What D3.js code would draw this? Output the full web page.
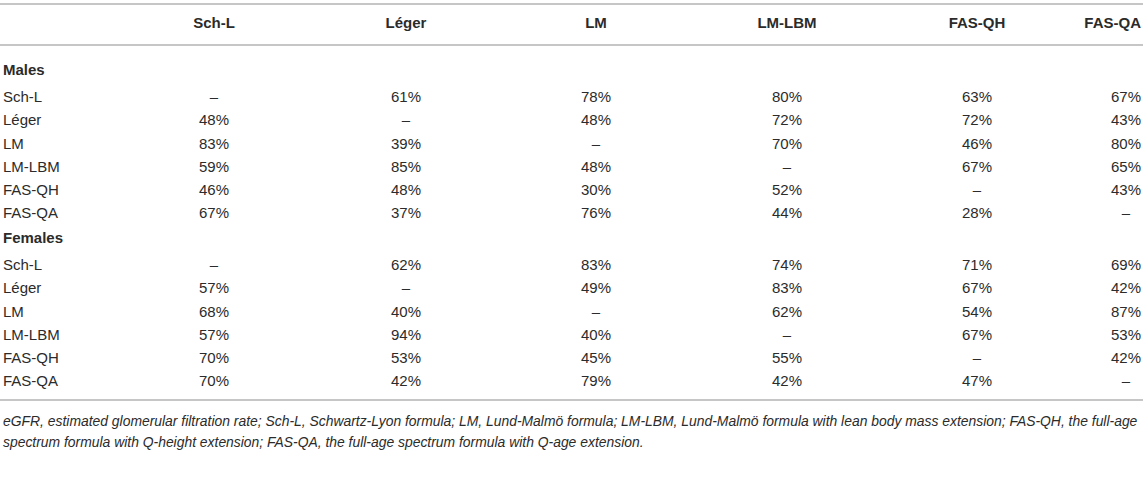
<!DOCTYPE html>
<html>
<head>
<meta charset="utf-8">
<script src="https://cdn.jsdelivr.net/npm/d3@7"></script>
<style>
  body { margin: 0; background: #fff; }
  svg { display: block; font-family: "Liberation Sans", Arial, Helvetica, sans-serif; }
</style>
</head>
<body>
<svg width="1145" height="481"></svg>
<script>
// column headers (formulas)
var formulas = ["Sch-L", "Léger", "LM", "LM-LBM", "FAS-QH", "FAS-QA"]

// percentage tables, null = same formula (dash)
var males = [
	[null, 61, 78, 80, 63, 67],
	[48, null, 48, 72, 72, 43],
	[83, 39, null, 70, 46, 80],
	[59, 85, 48, null, 67, 65],
	[46, 48, 30, 52, null, 43],
	[67, 37, 76, 44, 28, null]
]
var females = [
	[null, 62, 83, 74, 71, 69],
	[57, null, 49, 83, 67, 42],
	[68, 40, null, 62, 54, 87],
	[57, 94, 40, null, 67, 53],
	[70, 53, 45, 55, null, 42],
	[70, 42, 79, 42, 47, null]
]
var groups = [
	{ name: "Males", values: males },
	{ name: "Females", values: females }
]

var footnote = [
	"eGFR, estimated glomerular filtration rate; Sch-L, Schwartz-Lyon formula; LM, Lund-Malmö formula; LM-LBM, Lund-Malmö formula with lean body mass extension; FAS-QH, the full-age",
	"spectrum formula with Q-height extension; FAS-QA, the full-age spectrum formula with Q-age extension."
]

function drawTable(){
	var svg = d3.select("svg")
	var W = 1145
	var ink = "#2b2b2b"
	var rule = "#b3b3b3"
	var fs = "15px"

	// x positions of the columns
	var x = d3.scaleOrdinal()
		.domain(formulas)
		.range([214, 406, 596, 787, 977, 1126])

	// build the row list: group label rows and data rows
	var rows = []
	groups.forEach(g => {
		rows.push({ type: "group", label: g.name })
		g.values.forEach((v, i) => rows.push({ type: "data", label: formulas[i], values: v }))
	})

	// row centre positions
	var yPos = []
	var cur = 70
	rows.forEach((r, i) => {
		if (i > 0) {
			var prev = rows[i - 1]
			if (prev.type == "group") cur += 27
			else if (r.type == "group") cur += 25
			else cur += 23.2
		}
		yPos.push(cur)
	})

	// rules
	var lines = [4, 45, 400]
	svg.selectAll("line.rule")
		.data(lines)
		.enter()
		.append("line")
		.attr("class", "rule")
		.attr("x1", 0).attr("x2", W - 2)
		.attr("y1", d => d).attr("y2", d => d)
		.style("stroke", rule)
		.style("stroke-width", "1.6px")

	// header, kept inside the right edge
	svg.selectAll("text.head")
		.data(formulas)
		.enter()
		.append("text")
		.attr("class", "head")
		.attr("y", 23)
		.attr("dy", "0.35em")
		.style("text-anchor", "middle")
		.style("font-weight", "bold")
		.style("font-size", fs)
		.style("fill", ink)
		.text(d => d)
		.attr("x", function(d){
			var half = this.getComputedTextLength() / 2
			return Math.min(x(d), W - 4 - half)
		})

	var rowG = svg.selectAll("g.row")
		.data(rows)
		.enter()
		.append("g")
		.attr("class", "row")
		.attr("transform", (d, i) => "translate(0," + yPos[i] + ")")

	rowG.append("text")
		.attr("x", 3)
		.attr("dy", "0.35em")
		.style("font-size", fs)
		.style("font-weight", d => d.type == "group" ? "bold" : "normal")
		.style("fill", ink)
		.text(d => d.label)

	rowG.filter(d => d.type == "data")
		.selectAll("text.cell")
		.data(d => d.values.map((v, j) => ({ col: formulas[j], v: v })))
		.enter()
		.append("text")
		.attr("class", "cell")
		.attr("x", d => x(d.col))
		.attr("dy", "0.35em")
		.style("text-anchor", "middle")
		.style("font-size", fs)
		.style("fill", ink)
		.text(d => d.v == null ? "–" : d.v + "%")

	// footnote
	svg.selectAll("text.note")
		.data(footnote)
		.enter()
		.append("text")
		.attr("class", "note")
		.attr("x", 3)
		.attr("y", (d, i) => 421 + i * 21)
		.attr("dy", "0.35em")
		.style("font-style", "italic")
		.style("font-size", "13.9px")
		.style("fill", ink)
		.text(d => d)
}

drawTable()
</script>
</body>
</html>
